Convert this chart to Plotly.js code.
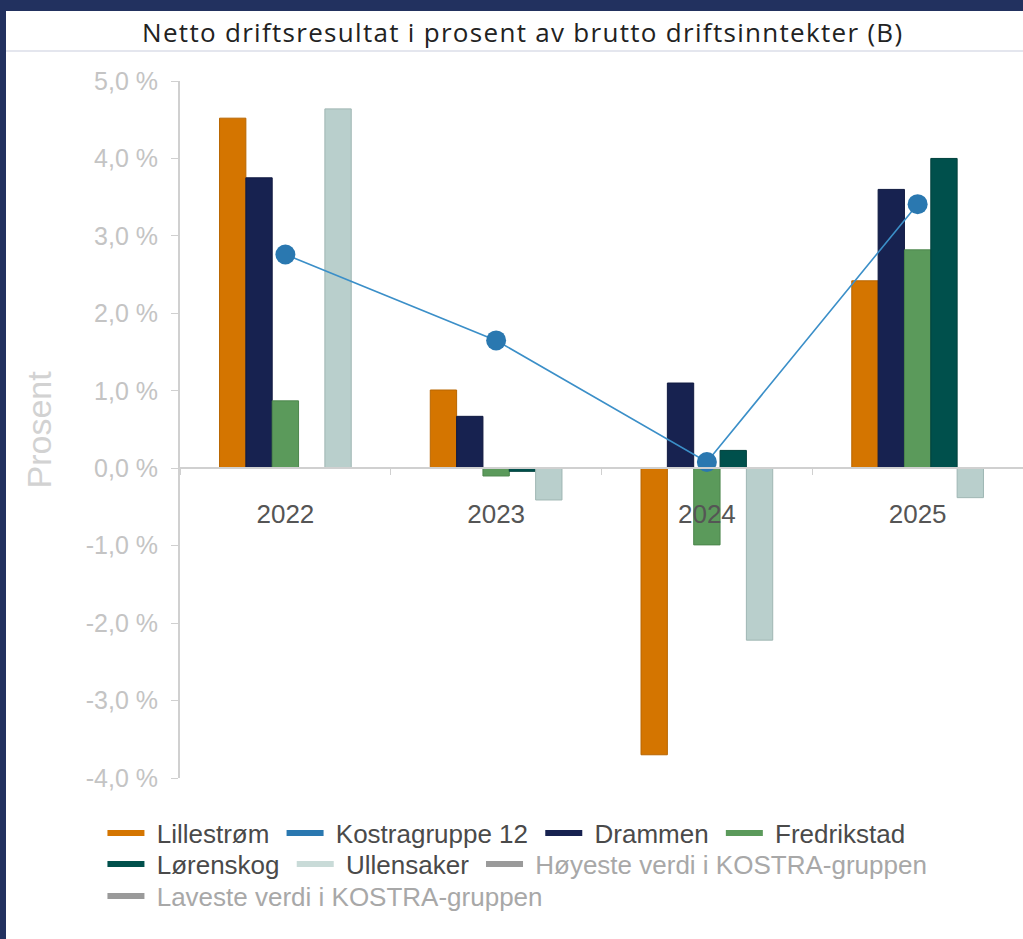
<!DOCTYPE html>
<html>
<head>
<meta charset="utf-8">
<script src="https://cdn.plot.ly/plotly-3.0.1.min.js"></script>
<style>
html,body{margin:0;padding:0;background:#fff;overflow:hidden;}
#wrap{position:relative;width:1023px;height:939px;}
#chart{position:absolute;left:0;top:0;width:1023px;height:939px;}
.bd{position:absolute;background:#22315f;pointer-events:none;}
.gtitle{letter-spacing:1.3px;}
</style>
</head>
<body>
<div id="wrap">
<div id="chart"></div>
<div class="bd" style="left:0;top:0;width:1023px;height:11px;"></div>
<div class="bd" style="left:0;top:0;width:6px;height:939px;"></div>
<div style="position:absolute;left:6px;top:50px;width:1017px;height:2px;background:#e4e6ee;"></div>
</div>
<script>
const years = ['2022', '2023', '2024', '2025'];
const lillestrom = [4.52, 1.01, -3.70, 2.42];
const kostra12 = [2.76, 1.65, 0.08, 3.41];
const drammen = [3.75, 0.67, 1.10, 3.60];
const fredrikstad = [0.87, -0.10, -0.99, 2.82];
const lorenskog = [null, -0.04, 0.23, 4.00];
const ullensaker = [4.64, -0.41, -2.22, -0.38];
const yTickVals = [-4, -3, -2, -1, 0, 1, 2, 3, 4, 5];
const yTickText = ['-4,0 %', '-3,0 %', '-2,0 %', '-1,0 %', '0,0 %', '1,0 %', '2,0 %', '3,0 %', '4,0 %', '5,0 %'];

const C = {
  lil: '#d47500', kos: '#2a78b0', kosLine: '#3b8fc8', dra: '#172250', fre: '#5b9a5b', lor: '#00504c', ull: '#b9cfcc', gray: '#9a9a9a'
};
const NB = '\u00a0';

function bar(name, y, color, line) {
  return {type: 'bar', name: name, x: years, y: y, showlegend: false,
    marker: {color: color, line: {color: line, width: 1}}, hoverinfo: 'y+name'};
}
function leg(name, color, legend, last) {
  return {type: 'scatter', mode: 'lines', name: NB + name + (last ? '' : NB), x: [null], y: [null],
    line: {color: color, width: 6}, legend: legend, showlegend: true, hoverinfo: 'skip'};
}

const traces = [
  bar('Lillestrøm', lillestrom, C.lil, '#b86600'),
  bar('Drammen', drammen, C.dra, '#101a40'),
  bar('Fredrikstad', fredrikstad, C.fre, '#4c864c'),
  bar('Lørenskog', lorenskog, C.lor, '#00403c'),
  bar('Ullensaker', ullensaker, C.ull, '#9fb6b3'),
  {type: 'scatter', mode: 'lines+markers', name: 'Kostragruppe 12', x: years, y: kostra12,
    line: {color: C.kosLine, width: 1.6}, marker: {color: C.kos, size: 20}, showlegend: false},
  leg('Lillestrøm', C.lil, 'legend'),
  leg('Kostragruppe 12', C.kos, 'legend'),
  leg('Drammen', C.dra, 'legend'),
  leg('Fredrikstad', C.fre, 'legend', true),
  leg('Lørenskog', C.lor, 'legend2'),
  leg('Ullensaker', '#c9dbd8', 'legend2'),
  leg('<span style="color:#a8a8a8">Høyeste verdi i KOSTRA-gruppen</span>', C.gray, 'legend2', true),
  leg('<span style="color:#a8a8a8">Laveste verdi i KOSTRA-gruppen</span>', C.gray, 'legend3', true)
];

const legBase = {orientation: 'h', x: -0.092, xanchor: 'left', yanchor: 'middle', itemwidth: 37,
  font: {family: 'Liberation Sans, Arial, sans-serif', size: 26, color: '#4a4a4a'},
  bgcolor: 'rgba(0,0,0,0)', traceorder: 'normal', itemclick: false, itemdoubleclick: false};
const ppy = 697;

const layout = {
  width: 1023, height: 939,
  margin: {l: 180, r: 0, t: 81, b: 161, pad: 0},
  paper_bgcolor: '#ffffff', plot_bgcolor: '#ffffff',
  separators: ', ',
  barmode: 'group', bargap: 0.375, bargroupgap: 0,
  title: {text: 'Netto driftsresultat i prosent av brutto driftsinntekter (B)',
    xref: 'container', x: 0.511, xanchor: 'center', yref: 'container', y: 1 - 33/939, yanchor: 'middle',
    font: {family: 'Open Sans, sans-serif', size: 26, color: '#222222'}},
  xaxis: {type: 'category', range: [-0.5, 3.5], anchor: 'free', position: 4/9,
    showline: true, linecolor: '#d0d0d0', linewidth: 2, ticks: 'outside', tickson: 'boundaries',
    ticklen: 6, tickcolor: '#d0d0d0', tickwidth: 1, showgrid: false, zeroline: false,
    tickfont: {family: 'Liberation Sans, Arial, sans-serif', size: 26, color: '#555555'},
    ticklabelstandoff: 23, fixedrange: true},
  yaxis: {range: [-4, 5], tickvals: yTickVals, ticktext: yTickText,
    showline: true, linecolor: '#d0d0d0', linewidth: 2, ticks: 'outside', ticklen: 7,
    tickcolor: '#d0d0d0', tickwidth: 1, showgrid: false, zeroline: false,
    tickfont: {family: 'Liberation Sans, Arial, sans-serif', size: 25, color: '#c4c4c4'},
    ticklabelstandoff: 8, fixedrange: true},
  annotations: [{text: 'Prosent', xref: 'paper', yref: 'paper', x: -142/843, y: 0.5,
    xanchor: 'center', yanchor: 'middle', textangle: -90, showarrow: false,
    font: {family: 'Liberation Sans, Arial, sans-serif', size: 34, color: '#d2d2d2'}}],
  legend: Object.assign({}, legBase, {y: -(833 - 778) / ppy}),
  legend2: Object.assign({}, legBase, {y: -(864 - 778) / ppy}),
  legend3: Object.assign({}, legBase, {y: -(896 - 778) / ppy}),
  showlegend: true
};

Plotly.newPlot('chart', traces, layout, {displayModeBar: false, staticPlot: false, responsive: false});
</script>
</body>
</html>
